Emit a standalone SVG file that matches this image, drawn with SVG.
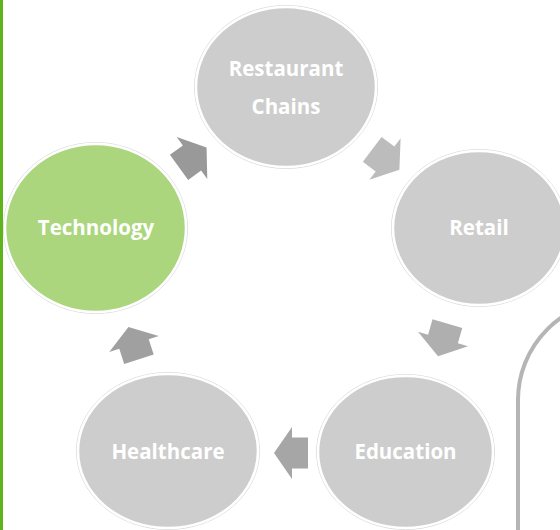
<svg xmlns="http://www.w3.org/2000/svg" width="560" height="530" viewBox="0 0 560 530">
<style>
.node{stroke:#ffffff;stroke-width:2.5}
.halo{fill:none;stroke:#dcdcdc;stroke-width:1}
.gray{fill:#cdcdcd}
.green{fill:#abd67d}
.lbl{font-family:"Open Sans","Noto Sans",sans-serif;font-weight:700;font-size:20.5px;fill:#ffffff;text-anchor:middle}
</style>
<defs>
<polygon id="arr" points="-16,-15.5 0,-15.5 0,-26 18,0 0,26 0,15.5 -16,15.5"/>
</defs>
<rect x="0" y="0" width="560" height="530" fill="#ffffff"/>
<rect x="0" y="0" width="3" height="530" fill="#5db41b"/>
<path d="M518,530 L518,400 A100,100 0 0 1 618,300" fill="none" stroke="#b5b5b5" stroke-width="4"/>
<g id="connectors">
<use href="#arr" fill="#999999" transform="translate(192,158) rotate(-36)"/>
<use href="#arr" fill="#bcbcbc" transform="translate(385,159) rotate(37)"/>
<use href="#arr" fill="#afafaf" transform="translate(443,339) rotate(106)"/>
<use href="#arr" fill="#a6a6a6" transform="translate(292,453) rotate(180)"/>
<use href="#arr" fill="#a0a0a0" transform="translate(134,344) rotate(-108)"/>
</g>
<g id="restaurant">
<ellipse class="halo" cx="286" cy="87" rx="91.5" ry="81.5"/>
<ellipse class="node gray" cx="286" cy="87" rx="90" ry="80"/>
<text class="lbl" x="286" y="76">Restaurant</text>
<text class="lbl" x="286" y="114">Chains</text>
</g>
<g id="retail">
<ellipse class="halo" cx="479" cy="228" rx="87.5" ry="78.5"/>
<ellipse class="node gray" cx="479" cy="228" rx="86" ry="77"/>
<text class="lbl" x="479" y="235">Retail</text>
</g>
<g id="education">
<ellipse class="halo" cx="405.5" cy="452" rx="89" ry="77.5"/>
<ellipse class="node gray" cx="405.5" cy="452" rx="87.5" ry="76"/>
<text class="lbl" x="405.5" y="459">Education</text>
</g>
<g id="healthcare">
<ellipse class="halo" cx="168" cy="451" rx="91.5" ry="78.5"/>
<ellipse class="node gray" cx="168" cy="451" rx="90" ry="77"/>
<text class="lbl" x="168" y="459">Healthcare</text>
</g>
<g id="technology">
<ellipse class="halo" cx="95.5" cy="228" rx="92" ry="85.5"/>
<ellipse class="node green" cx="95.5" cy="228" rx="90.5" ry="84"/>
<text class="lbl" x="96" y="235">Technology</text>
</g>
</svg>
